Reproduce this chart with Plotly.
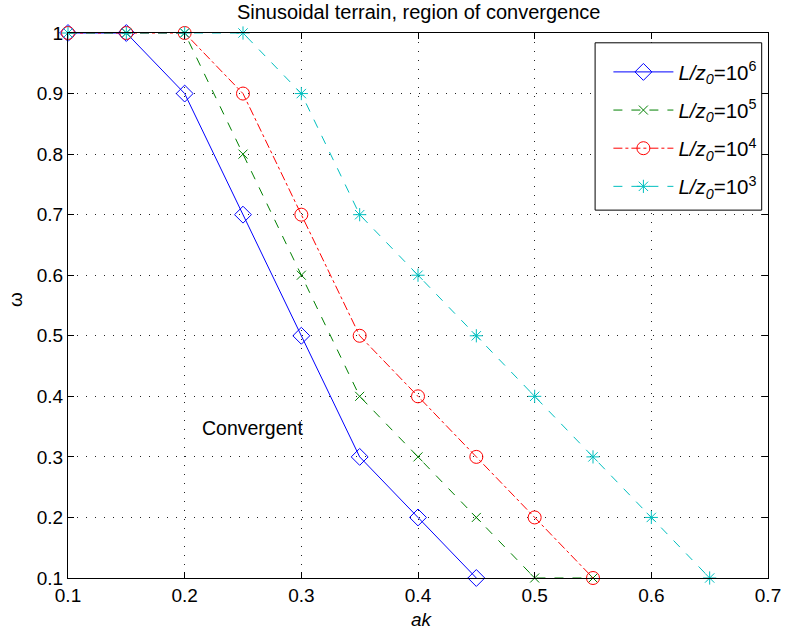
import plotly.graph_objects as go

# Region-of-convergence boundaries for several roughness ratios L/z0
ak_1e6 = [0.10, 0.15, 0.20, 0.25, 0.30, 0.35, 0.40, 0.45]
om_1e6 = [1.0, 1.0, 0.9, 0.7, 0.5, 0.3, 0.2, 0.1]

ak_1e5 = [0.10, 0.15, 0.20, 0.25, 0.30, 0.35, 0.40, 0.45, 0.50, 0.55]
om_1e5 = [1.0, 1.0, 1.0, 0.8, 0.6, 0.4, 0.3, 0.2, 0.1, 0.1]

ak_1e4 = [0.10, 0.15, 0.20, 0.25, 0.30, 0.35, 0.40, 0.45, 0.50, 0.55]
om_1e4 = [1.0, 1.0, 1.0, 0.9, 0.7, 0.5, 0.4, 0.3, 0.2, 0.1]

ak_1e3 = [0.10, 0.15, 0.20, 0.25, 0.30, 0.35, 0.40, 0.45, 0.50, 0.55, 0.60, 0.65]
om_1e3 = [1.0, 1.0, 1.0, 1.0, 0.9, 0.7, 0.6, 0.5, 0.4, 0.3, 0.2, 0.1]

x_ticks = [0.1, 0.2, 0.3, 0.4, 0.5, 0.6, 0.7]
y_ticks = [0.1, 0.2, 0.3, 0.4, 0.5, 0.6, 0.7, 0.8, 0.9, 1.0]

FONT = "Liberation Sans, Arial, Helvetica, sans-serif"


def name(exp):
    return f"<i>L/z</i><sub><i>0</i></sub>=10<sup>{exp}</sup>"


series = [
    (ak_1e6, om_1e6, "6", "#0000ff", "solid", "diamond-open", 13),
    (ak_1e5, om_1e5, "5", "#008000", "dash", "x-thin-open", 9),
    (ak_1e4, om_1e4, "4", "#ff0000", "dashdot", "circle-open", 13),
    (ak_1e3, om_1e3, "3", "#00bfbf", "dash", "asterisk-open", 11),
]

fig = go.Figure()
for i, (xs, ys, exp, col, dash, sym, sz) in enumerate(series):
    fig.add_trace(go.Scatter(
        x=xs, y=ys, mode="lines+markers", name=name(exp),
        legendgroup=f"g{i}",
        line=dict(color=col, width=1, dash=dash),
        marker=dict(symbol=sym, size=sz, color=col, line=dict(color=col, width=1)),
        cliponaxis=False,
    ))

fig.add_annotation(x=0.213, y=0.348, xref="x", yref="y", text="Convergent",
                   showarrow=False, xanchor="left", yanchor="middle",
                   font=dict(family=FONT, size=19.5, color="black"))

# axis titles
fig.add_annotation(x=0.506, y=-0.077, xref="paper", yref="paper", text="<i>ak</i>",
                   showarrow=False, xanchor="center", yanchor="middle",
                   font=dict(family=FONT, size=19, color="black"))
fig.add_annotation(x=-0.0757, y=0.51, xref="paper", yref="paper", text="ω",
                   showarrow=False, xanchor="center", yanchor="middle", textangle=-90,
                   font=dict(family=FONT, size=19, color="black"))

# framed box behind the legend entries
fig.add_shape(type="rect", xref="paper", yref="paper",
              x0=0.753, x1=0.991, y0=0.675, y1=0.982,
              fillcolor="white", line=dict(color="black", width=1), layer="above")

axis_common = dict(
    showgrid=True, gridcolor="#222222", griddash="1px,8px", gridwidth=1,
    showline=True, linecolor="black", linewidth=1, mirror="ticks",
    ticks="inside", ticklen=6, tickcolor="black", automargin=False,
    zeroline=False, tickfont=dict(family=FONT, size=19, color="black"),
)

fig.update_xaxes(range=[0.1, 0.7], tickvals=x_ticks, ticktext=[f"{v:g}" for v in x_ticks],
                 **axis_common)
fig.update_yaxes(range=[0.1, 1.0], tickvals=y_ticks, ticktext=[f"{v:g}" for v in y_ticks],
                 **axis_common)

fig.update_layout(
    width=787, height=631,
    margin=dict(l=68, r=19, t=33, b=53),
    paper_bgcolor="white", plot_bgcolor="white",
    title=dict(text="Sinusoidal terrain, region of convergence",
               x=0.532, xanchor="center", y=0.981, yanchor="middle",
               font=dict(family=FONT, size=20, color="black")),
    legend=dict(x=0.992, y=0.965, xanchor="right", yanchor="top",
                bgcolor="rgba(0,0,0,0)", borderwidth=0,
                font=dict(family=FONT, size=20.5, color="black"),
                itemwidth=60,
                traceorder="grouped", tracegroupgap=8.5),
    showlegend=True,
)

fig.write_html("out.html")
